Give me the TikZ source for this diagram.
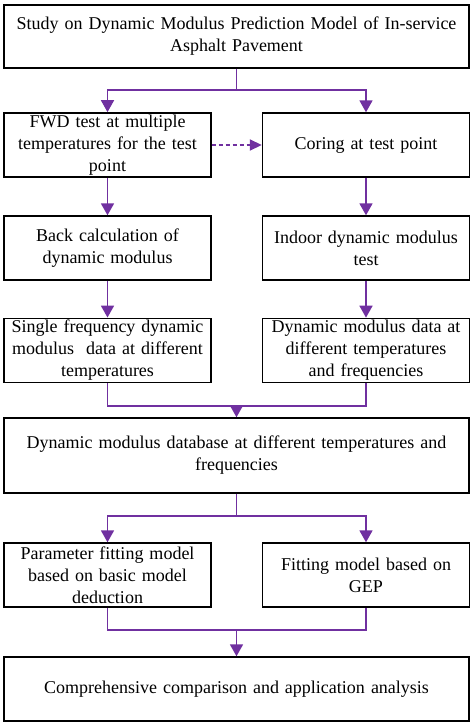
\documentclass[tikz,border=0pt]{standalone}
\usepackage{fontspec}
\setmainfont{Liberation Serif}
\usepackage{xcolor}
\usetikzlibrary{arrows.meta}
\definecolor{flowpurple}{RGB}{112,48,160}

\begin{document}
\begin{tikzpicture}[x=1pt, y=-1pt]
      \useasboundingbox (0,0) rectangle (474,726);
      \tikzset{box/.style={draw, line width=1.4pt, align=center,
          font=\fontsize{18}{22}\selectfont, inner sep=2pt},
        halfbox/.style={box, text width=199pt, minimum width=207pt, minimum height=64pt},
        widebox/.style={box, text width=455pt, minimum width=465pt},
        link/.style={draw=flowpurple, line width=1.8pt,
          -{Triangle[length=12pt, width=13pt]}}}

      \node[widebox, minimum height=63pt] (study) at (236.5, 36.5)
        {Study on Dynamic Modulus Prediction Model of In-service\\Asphalt Pavement};

      \node[halfbox] (fwd) at (107.5, 145)
        {FWD test at multiple\\temperatures for the test\\point};
      \node[halfbox] (coring) at (366, 145) {Coring at test point};

      \node[halfbox] (back) at (107.5, 248) {Back calculation of\\dynamic modulus};
      \node[halfbox] (indoor) at (366, 248) {Indoor dynamic modulus\\test};

      \node[halfbox, minimum height=63pt] (single) at (107.5, 350.5)
        {Single frequency dynamic\\modulus\ \ data at different\\temperatures};
      \node[halfbox, minimum height=63pt] (tfdata) at (366, 350.5)
        {Dynamic modulus data at\\different temperatures\\and frequencies};

      \node[widebox, minimum height=75pt] (database) at (236.5, 455.5)
        {Dynamic modulus database at different temperatures and\\frequencies};

      \node[halfbox] (param) at (107.5, 575)
        {Parameter fitting model\\based on basic model\\deduction};
      \node[halfbox] (gep) at (366, 575) {Fitting model based on\\GEP};

      \node[widebox, minimum height=64pt] (compare) at (236.5, 689)
        {Comprehensive comparison and application analysis};

      \coordinate (split1) at (236.5, 90);
      \coordinate (join1) at (236.5, 406);
      \coordinate (split2) at (236.5, 516);
      \coordinate (join2) at (236.5, 630);

      \draw[link] (study.south) -- (split1) -| (fwd.north);
      \draw[link] (split1) -| (coring.north);
      \draw[link, dashed, dash pattern=on 4pt off 3pt,
          -{Triangle[length=12pt, width=11pt]}] (fwd.east) -- (coring.west);

      \draw[link] (fwd) -- (back);
      \draw[link] (coring) -- (indoor);
      \draw[link] (back) -- (single);
      \draw[link] (indoor) -- (tfdata);

      \draw[link, -] (single.south) |- (join1) -| (tfdata.south);
      \draw[link] (join1) -- (database.north);

      \draw[link] (database.south) -- (split2) -| (param.north);
      \draw[link] (split2) -| (gep.north);

      \draw[link, -] (param.south) |- (join2) -| (gep.south);
      \draw[link] (join2) -- (compare.north);
    \end{tikzpicture}
\end{document}
